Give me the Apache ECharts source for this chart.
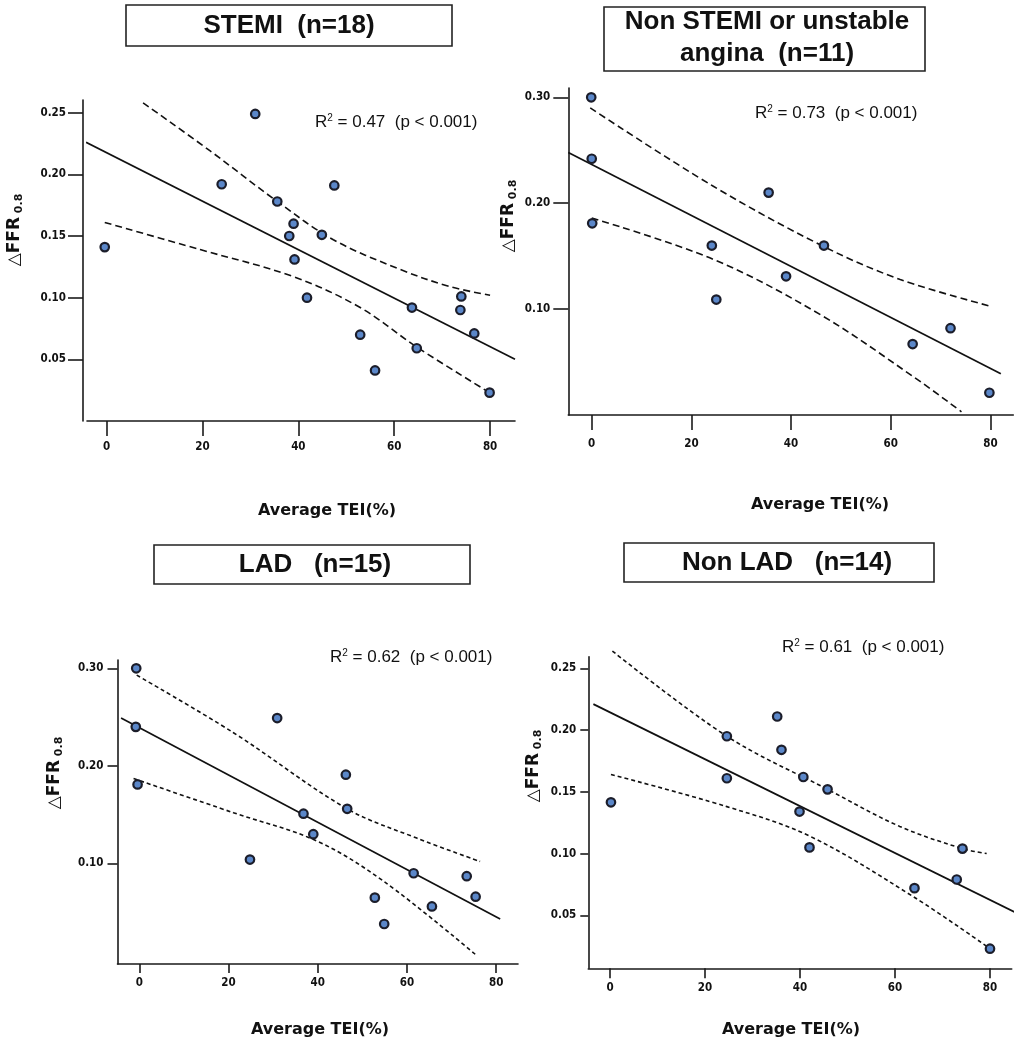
<!DOCTYPE html>
<html><head><meta charset="utf-8">
<script src="https://cdn.jsdelivr.net/npm/echarts@6/dist/echarts.min.js"></script>
<style>html,body{margin:0;padding:0;background:#fff}#c{width:1032px;height:1050px}</style>
</head><body><div id="c"></div>
<script>
// ---------- tick labels ----------
const xTicks = [0, 20, 40, 60, 80];
const yTicksA = [0.05, 0.10, 0.15, 0.20, 0.25];
const yTicksB = [0.10, 0.20, 0.30];

// ---------- titles & texts ----------
const titles = ['STEMI  (n=18)', 'Non STEMI or unstable\nangina  (n=11)', 'LAD   (n=15)', 'Non LAD   (n=14)'];
const r2Values = ['0.47', '0.73', '0.62', '0.61'];
const pText = '(p < 0.001)';
const xName = 'Average TEI(%)';
const yName = '△FFR';
const ySub = '0.8';

// ---------- STEMI ----------
const stemiTEI  = [-0.4, 24, 31, 35.6, 39, 38.1, 39.2, 44.9, 47.5, 41.8, 52.9, 56, 63.7, 64.7, 74, 73.8, 76.7, 79.9];
const stemiDFFR = [0.141, 0.192, 0.249, 0.178, 0.160, 0.150, 0.131, 0.151, 0.191, 0.100, 0.070, 0.041, 0.092, 0.059, 0.101, 0.090, 0.071, 0.023];
const stemiFitX = [-4.3, 85.2];
const stemiFitY = [0.226, 0.050];
const stemiUpX = [7.6, 21.6, 35.6, 47.3, 61.2, 71.6, 80];
const stemiUpY = [0.258, 0.219, 0.178, 0.147, 0.123, 0.109, 0.102];
const stemiLoX = [-0.4, 19.5, 39, 52.9, 64.7, 79.9];
const stemiLoY = [0.161, 0.139, 0.117, 0.092, 0.060, 0.023];

// ---------- Non STEMI / UA ----------
const nstemiTEI  = [-0.1, 0, 0.1, 24.1, 25, 35.5, 39, 46.6, 64.4, 72, 79.8];
const nstemiDFFR = [0.300, 0.242, 0.181, 0.160, 0.109, 0.210, 0.131, 0.160, 0.067, 0.082, 0.021];
const nstemiFitX = [-4.7, 82.1];
const nstemiFitY = [0.248, 0.039];
const nstemiUpX = [-0.3, 24.4, 46.6, 61.9, 79.8];
const nstemiUpY = [0.290, 0.216, 0.159, 0.128, 0.103];
const nstemiLoX = [0, 24.4, 45.8, 64.6, 74.2];
const nstemiLoY = [0.186, 0.147, 0.095, 0.036, 0.003];

// ---------- LAD ----------
const ladTEI  = [-0.7, -0.8, -0.4, 24.8, 30.9, 36.8, 39, 46.3, 46.6, 52.8, 54.9, 61.5, 65.6, 73.4, 75.4];
const ladDFFR = [0.300, 0.240, 0.181, 0.104, 0.249, 0.151, 0.130, 0.191, 0.156, 0.065, 0.038, 0.090, 0.056, 0.087, 0.066];
const ladFitX = [-4.1, 80.9];
const ladFitY = [0.249, 0.043];
const ladUpX = [-0.6, 21.1, 46.6, 62.2, 76.4];
const ladUpY = [0.293, 0.234, 0.156, 0.126, 0.102];
const ladLoX = [-1.3, 21.1, 39.8, 54.7, 75.3];
const ladLoY = [0.187, 0.152, 0.123, 0.082, 0.007];

// ---------- Non LAD ----------
const nonladTEI  = [0.2, 24.6, 24.6, 35.2, 36.1, 40.7, 45.8, 39.9, 42, 64.1, 73, 74.2, 80];
const nonladDFFR = [0.1415, 0.195, 0.161, 0.211, 0.184, 0.162, 0.152, 0.134, 0.105, 0.072, 0.079, 0.104, 0.023];
const nonladFitX = [-3.5, 85.5];
const nonladFitY = [0.221, 0.052];
const nonladUpX = [0.5, 24.6, 45.8, 61, 74.2, 79.3];
const nonladUpY = [0.264, 0.195, 0.152, 0.122, 0.104, 0.100];
const nonladLoX = [0.2, 24.6, 42.1, 63.9, 80];
const nonladLoY = [0.164, 0.138, 0.114, 0.065, 0.023];

const zip = (a, b) => a.map((v, i) => [v, b[i]]);

const panels = [
  { x: stemiTEI, y: stemiDFFR, fx: stemiFitX, fy: stemiFitY, ux: stemiUpX, uy: stemiUpY, lx: stemiLoX, ly: stemiLoY, yTicks: yTicksA,
    grid: {left: 87, top: 100, width: 428, height: 321}, xr: [-4.1, 85.2], yr: [0, 0.2603], yOff: 4,
    xTick: 15, xMargin: 20, yTick: 15, yMargin: 17, dash: [7, 4],
    title: {x: 126, y: 5, w: 326, h: 41, cx: 289, cy: 26},
    r2: [315, 122], yl: [15, 230], xl: [327, 511] },
  { x: nstemiTEI, y: nstemiDFFR, fx: nstemiFitX, fy: nstemiFitY, ux: nstemiUpX, uy: nstemiUpY, lx: nstemiLoX, ly: nstemiLoY, yTicks: yTicksB,
    grid: {left: 568.3, top: 88, width: 445, height: 327}, xr: [-4.7, 84.6], yr: [0, 0.3088], yOff: 0,
    xTick: 15, xMargin: 23, yTick: 15, yMargin: 18, dash: [7, 4],
    title: {x: 604, y: 7, w: 321, h: 64, cx: 767, cy: 38},
    r2: [755, 113], yl: [509, 216], xl: [820, 505] },
  { x: ladTEI, y: ladDFFR, fx: ladFitX, fy: ladFitY, ux: ladUpX, uy: ladUpY, lx: ladLoX, ly: ladLoY, yTicks: yTicksB,
    grid: {left: 117.5, top: 660, width: 400.5, height: 304}, xr: [-4.9, 84.9], yr: [-0.003, 0.3085], yOff: 0,
    xTick: 9, xMargin: 13, yTick: 10, yMargin: 14, dash: [4, 3],
    title: {x: 154, y: 545, w: 316, h: 39, cx: 315, cy: 565},
    r2: [330, 657], yl: [55, 773], xl: [320, 1030] },
  { x: nonladTEI, y: nonladDFFR, fx: nonladFitX, fy: nonladFitY, ux: nonladUpX, uy: nonladUpY, lx: nonladLoX, ly: nonladLoY, yTicks: yTicksA,
    grid: {left: 588.3, top: 656.7, width: 423.4, height: 311.6}, xr: [-4.57, 84.57], yr: [0.0071, 0.2594], yOff: 0,
    xTick: 10, xMargin: 14, yTick: 8, yMargin: 12, dash: [4, 3],
    title: {x: 624, y: 543, w: 310, h: 39, cx: 787, cy: 563},
    r2: [782, 647], yl: [534, 766], xl: [791, 1030] }
];

const AX = '#1a1a1a';
const tickFont = {color: '#111', fontFamily: 'DejaVu Sans Condensed', fontWeight: 'bold', fontSize: 11.5};

const option = {
  backgroundColor: '#fff',
  animation: false,
  grid: [], xAxis: [], yAxis: [], series: [], graphic: []
};

panels.forEach((p, i) => {
  option.grid.push(Object.assign({containLabel: false}, p.grid));
  option.xAxis.push({
    type: 'value', gridIndex: i, min: p.xr[0], max: p.xr[1],
    axisLine: {show: true, onZero: false, lineStyle: {color: AX, width: 1.6}},
    axisTick: {show: true, length: p.xTick, lineStyle: {color: AX, width: 1.6}, customValues: xTicks},
    axisLabel: Object.assign({margin: p.xMargin, customValues: xTicks, formatter: v => String(Math.round(v))}, tickFont),
    splitLine: {show: false}
  });
  option.yAxis.push({
    type: 'value', gridIndex: i, min: p.yr[0], max: p.yr[1], offset: p.yOff,
    axisLine: {show: true, onZero: false, lineStyle: {color: AX, width: 1.6}},
    axisTick: {show: true, length: p.yTick, lineStyle: {color: AX, width: 1.6}, customValues: p.yTicks},
    axisLabel: Object.assign({margin: p.yMargin, customValues: p.yTicks, formatter: v => v.toFixed(2)}, tickFont),
    splitLine: {show: false}
  });
  option.series.push({
    type: 'line', xAxisIndex: i, yAxisIndex: i, data: zip(p.fx, p.fy), symbol: 'none', silent: true,
    lineStyle: {color: '#111', width: 1.7}, z: 2, clip: false
  });
  option.series.push({
    type: 'line', xAxisIndex: i, yAxisIndex: i, data: zip(p.ux, p.uy), symbol: 'none', smooth: 0.35, silent: true,
    lineStyle: {color: '#111', width: 1.6, type: p.dash}, z: 2, clip: false
  });
  option.series.push({
    type: 'line', xAxisIndex: i, yAxisIndex: i, data: zip(p.lx, p.ly), symbol: 'none', smooth: 0.35, silent: true,
    lineStyle: {color: '#111', width: 1.6, type: p.dash}, z: 2, clip: false
  });
  option.series.push({
    type: 'scatter', xAxisIndex: i, yAxisIndex: i, data: zip(p.x, p.y), symbol: 'circle', symbolSize: 8.5,
    itemStyle: {color: '#5b87c9', borderColor: '#1b1d2a', borderWidth: 2.2, opacity: 1}, z: 5, clip: false
  });

  // title box
  option.graphic.push({
    type: 'rect', shape: {x: p.title.x, y: p.title.y, width: p.title.w, height: p.title.h},
    style: {fill: '#fff', stroke: '#222', lineWidth: 1.6}, z: 10
  });
  option.graphic.push({
    type: 'text', x: p.title.cx, y: p.title.cy, z: 11,
    style: {text: titles[i], fill: '#111', fontFamily: 'Liberation Sans, Arial', fontWeight: 'bold', fontSize: 26,
            lineHeight: 32, align: 'center', verticalAlign: 'middle'}
  });
  // R² text
  option.graphic.push({
    type: 'text', x: p.r2[0], y: p.r2[1], z: 11,
    style: {
      text: '{r|R}{s|2}{r| = ' + r2Values[i] + '  ' + pText + '}',
      align: 'left', verticalAlign: 'middle',
      rich: {
        r: {fontFamily: 'Liberation Sans, Arial', fontSize: 17, fill: '#111', lineHeight: 20, verticalAlign: 'middle'},
        s: {fontFamily: 'Liberation Sans, Arial', fontSize: 10, fill: '#111', lineHeight: 20, verticalAlign: 'top', padding: [1, 0, 0, 0]}
      }
    }
  });
  // y axis name
  option.graphic.push({
    type: 'text', x: p.yl[0], y: p.yl[1], rotation: Math.PI / 2, z: 11,
    style: {
      text: '{a|' + yName + '}{b| ' + ySub + '}',
      align: 'center', verticalAlign: 'middle',
      rich: {
        a: {fontFamily: 'DejaVu Sans', fontWeight: 'bold', fontSize: 17, fill: '#111', lineHeight: 20, verticalAlign: 'middle'},
        b: {fontFamily: 'DejaVu Sans', fontWeight: 'bold', fontSize: 11, fill: '#111', lineHeight: 20, verticalAlign: 'bottom'}
      }
    }
  });
  // x axis name
  option.graphic.push({
    type: 'text', x: p.xl[0], y: p.xl[1], z: 11,
    style: {text: xName, fill: '#111', fontFamily: 'DejaVu Sans', fontWeight: 'bold', fontSize: 16,
            align: 'center', verticalAlign: 'middle'}
  });
});

const chart = echarts.init(document.getElementById('c'), null, {renderer: 'canvas'});
chart.setOption(option);
</script>
</body></html>
